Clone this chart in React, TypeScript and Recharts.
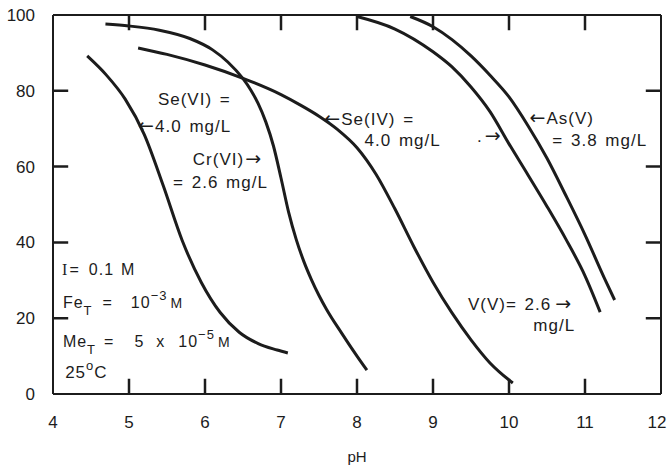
import React from 'react';
import { LineChart, Line, XAxis, YAxis, ReferenceDot } from 'recharts';

// pH values and percent values for each curve
const seVIpH = [4.45, 4.7, 4.95, 5.2, 5.45, 5.7, 5.95, 6.2, 6.45, 6.7, 6.95, 7.09];
const seVIval = [89.2, 84.2, 77.8, 68.5, 55, 40.5, 29.5, 21.5, 16.3, 13.3, 11.6, 10.8];

const crVIpH = [4.69, 5.0, 5.4, 5.8, 6.1, 6.3, 6.5, 6.6, 6.7, 6.8, 6.9, 7.0, 7.1, 7.2, 7.3, 7.4, 7.5, 7.6, 7.8, 8.0, 8.13];
const crVIval = [97.6, 97.1, 96, 93.8, 90.8, 87.6, 83.2, 80.3, 76.6, 71.8, 65.5, 57, 48, 40.8, 35, 30.2, 26, 22.3, 16, 10, 6.3];

const seIVpH = [5.12, 5.5, 6.0, 6.5, 7.0, 7.25, 7.5, 7.75, 8.0, 8.25, 8.5, 8.75, 9.0, 9.25, 9.5, 9.75, 10.05];
const seIVval = [91.3, 89.6, 86.8, 83.3, 79, 76.3, 73.3, 69.7, 65, 58, 48.8, 38.8, 29.5, 21.4, 14.3, 8.2, 2.9];

const vVpH = [8.0, 8.5, 9.0, 9.25, 9.5, 9.75, 10.0, 10.25, 10.5, 10.75, 11.0, 11.2];
const vVval = [99.6, 96.3, 90.3, 86.3, 81, 74.5, 66, 57.8, 49.5, 40.8, 31.2, 21.6];

const asVpH = [8.7, 9.0, 9.25, 9.5, 9.75, 10.0, 10.25, 10.5, 10.75, 11.0, 11.25, 11.39];
const asVval = [99.6, 96.9, 93.5, 89.2, 84.1, 78.4, 70.8, 62.2, 52.3, 42, 30.8, 24.8];

const xTicks = [4, 5, 6, 7, 8, 9, 10, 11, 12];
const xInnerTicks = [5, 6, 7, 8, 9, 10, 11];
const yTicks = [0, 20, 40, 60, 80, 100];
const yInnerTicks = [20, 40, 60, 80];

const X_MIN = 4;
const X_MAX = 12;
const Y_MIN = 0;
const Y_MAX = 100;
const TICK_DY = 4; // inward tick length, in % units
const TICK_DX = 0.2; // inward tick length, in pH units

const toPoints = (xs: number[], ys: number[]) => xs.map((x, i) => ({ x, y: ys[i] }));

const series = [
  toPoints(seVIpH, seVIval),
  toPoints(crVIpH, crVIval),
  toPoints(seIVpH, seIVval),
  toPoints(vVpH, vVval),
  toPoints(asVpH, asVval),
];

// one broken series per side: each tick is a 2-point segment, separated by a gap (null)
type P = { x: number; y: number | null };
const segs = (pairs: [P, P][]): P[] =>
  pairs.reduce((acc: P[], [a, b]) => acc.concat([a, b, { x: b.x, y: null }]), []);

const tickSides: P[][] = [
  segs(xInnerTicks.map((t) => [{ x: t, y: Y_MIN }, { x: t, y: Y_MIN + TICK_DY }] as [P, P])),
  segs(xInnerTicks.map((t) => [{ x: t, y: Y_MAX }, { x: t, y: Y_MAX - TICK_DY }] as [P, P])),
  segs(yInnerTicks.map((t) => [{ x: X_MIN, y: t }, { x: X_MIN + TICK_DX, y: t }] as [P, P])),
  segs(yInnerTicks.map((t) => [{ x: X_MAX, y: t }, { x: X_MAX - TICK_DX, y: t }] as [P, P])),
];

type Part = { t: string; k?: 'sub' | 'sup' | 'back'; dx?: number; arrow?: boolean; serif?: boolean; size?: number };
type Ann = { ph: number; v: number; size: number; parts: Part[] };

const L = '\u2190';
const R = '\u2192';

// annotation anchors in data coordinates (pH, %), with text parts
const annotations: Ann[] = [
  { ph: 5.38, v: 76.3, size: 17, parts: [{ t: 'Se(VI) =' }] },
  { ph: 5.12, v: 69.1, size: 17, parts: [{ t: L, arrow: true }, { t: '4.0 mg/L' }] },
  { ph: 5.84, v: 60.4, size: 17, parts: [{ t: 'Cr(VI)' }, { t: R, arrow: true, dx: 1 }] },
  { ph: 5.58, v: 54.4, size: 17, parts: [{ t: '= 2.6 mg/L' }] },
  { ph: 7.57, v: 71.0, size: 17, parts: [{ t: L, arrow: true }, { t: 'Se(IV) =' }] },
  { ph: 8.1, v: 65.4, size: 17, parts: [{ t: '4.0 mg/L' }] },
  { ph: 9.58, v: 66.5, size: 17, parts: [{ t: '.' }, { t: R, arrow: true, dx: 2 }] },
  { ph: 10.27, v: 71.2, size: 17, parts: [{ t: L, arrow: true }, { t: 'As(V)' }] },
  { ph: 10.57, v: 65.4, size: 17, parts: [{ t: '= 3.8 mg/L' }] },
  { ph: 9.46, v: 22.2, size: 17, parts: [{ t: 'V(V)= 2.6' }, { t: R, arrow: true, dx: 4 }] },
  { ph: 10.32, v: 16.6, size: 17, parts: [{ t: 'mg/L' }] },
  { ph: 4.12, v: 31.4, size: 16, parts: [{ t: 'I', serif: true }, { t: '=', dx: 1 }, { t: '0.1', dx: 9 }, { t: 'M', dx: 7 }] },
  {
    ph: 4.13, v: 22.7, size: 16,
    parts: [{ t: 'Fe' }, { t: 'T', k: 'sub' }, { t: '=', k: 'back', dx: 10 }, { t: '10', dx: 18 }, { t: '\u22123', k: 'sup' }, { t: 'M', k: 'back', dx: 3, size: 14 }],
  },
  {
    ph: 4.13, v: 12.4, size: 16,
    parts: [{ t: 'Me' }, { t: 'T', k: 'sub' }, { t: '=', k: 'back', dx: 8 }, { t: '5', dx: 20 }, { t: 'x', dx: 12 }, { t: '10', dx: 13 }, { t: '\u22125', k: 'sup' }, { t: 'M', k: 'back', dx: 3, size: 14 }],
  },
  { ph: 4.16, v: 4.2, size: 17, parts: [{ t: '25' }, { t: 'o', k: 'sup' }, { t: 'C', k: 'back' }] },
];

const INK = '#1c1c1c';
const FONT = '"Liberation Sans", Arial, Helvetica, sans-serif';
const X_LABEL_GAP = 22;
const Y_LABEL_GAP = 18;

const renderParts = (parts: Part[]) => {
  let shift = 0;
  return parts.map((p, i) => {
    let dy = 0;
    let size: number | undefined = p.size;
    if (p.k === 'sub') {
      dy = 7 - shift;
      shift = 7;
      size = 13;
    } else if (p.k === 'sup') {
      dy = -8 - shift;
      shift = -8;
      size = 13;
    } else if (p.k === 'back') {
      dy = -shift;
      shift = 0;
    }
    if (p.arrow) size = 19;
    const family = p.arrow ? '"DejaVu Sans", sans-serif' : p.serif ? '"Liberation Serif", serif' : undefined;
    return (
      <tspan key={i} dx={p.dx || 0} dy={dy} fontSize={size} fontFamily={family}>
        {p.t}
      </tspan>
    );
  });
};

const BottomTick = (props: any) => {
  const { x, y, payload } = props;
  const v = payload.value;
  const shift = Number(v) === 12 ? -4 : 0;
  return (
    <text x={x + shift} y={y} dy="0.71em" textAnchor="middle" fill={INK} fontSize={17} fontFamily={FONT}>
      {v}
    </text>
  );
};

const LeftTick = (props: any) => {
  const { x, y, payload } = props;
  return (
    <text x={x} y={y} dy="0.355em" textAnchor="end" fill={INK} fontSize={17} fontFamily={FONT}>
      {payload.value}
    </text>
  );
};

export default function App() {
  return (
    <div style={{ position: 'absolute', left: 0, top: 0, width: 669, height: 468, background: '#fff' }}>
      <LineChart width={669} height={468} margin={{ top: 10, right: 3, bottom: 0, left: 0 }}>
        <XAxis
          xAxisId={0}
          type="number"
          dataKey="x"
          domain={[X_MIN, X_MAX]}
          ticks={xTicks}
          interval={0}
          height={74}
          tickSize={0}
          tickMargin={X_LABEL_GAP}
          axisLine={{ stroke: INK, strokeWidth: 2 }}
          tickLine={false}
          tick={BottomTick}
          label={{ value: 'pH', position: 'insideBottom', offset: 6, fill: INK, fontSize: 15, fontFamily: FONT }}
        />
        <XAxis
          xAxisId="top"
          orientation="top"
          type="number"
          dataKey="x"
          domain={[X_MIN, X_MAX]}
          ticks={xInnerTicks}
          height={5}
          axisLine={{ stroke: INK, strokeWidth: 2 }}
          tickLine={false}
          tick={false}
        />
        <YAxis
          yAxisId={0}
          type="number"
          domain={[Y_MIN, Y_MAX]}
          ticks={yTicks}
          interval={0}
          width={53}
          tickSize={0}
          tickMargin={Y_LABEL_GAP}
          axisLine={{ stroke: INK, strokeWidth: 2 }}
          tickLine={false}
          tick={LeftTick}
        />
        <YAxis
          yAxisId="r"
          orientation="right"
          type="number"
          domain={[Y_MIN, Y_MAX]}
          ticks={yInnerTicks}
          width={5}
          axisLine={{ stroke: INK, strokeWidth: 2 }}
          tickLine={false}
          tick={false}
        />
        {series.map((d, i) => (
          <Line
            key={i}
            data={d}
            dataKey="y"
            type="monotone"
            stroke={INK}
            strokeWidth={3}
            dot={false}
            activeDot={false}
            isAnimationActive={false}
          />
        ))}
        {tickSides.map((d, i) => (
          <Line
            key={'side' + i}
            data={d}
            dataKey="y"
            type="linear"
            connectNulls={false}
            stroke={INK}
            strokeWidth={2.5}
            dot={false}
            activeDot={false}
            isAnimationActive={false}
          />
        ))}
        {annotations.map((a, i) => (
          <ReferenceDot
            key={'a' + i}
            x={a.ph}
            y={a.v}
            r={0}
            ifOverflow="visible"
            shape={(p: any) => (
              <text
                x={p.cx}
                y={p.cy}
                fill={INK}
                fontSize={a.size}
                fontFamily={FONT}
                letterSpacing={1}
                wordSpacing={2}
                style={{ whiteSpace: 'pre' }}
              >
                {renderParts(a.parts)}
              </text>
            )}
          />
        ))}
      </LineChart>
    </div>
  );
}
